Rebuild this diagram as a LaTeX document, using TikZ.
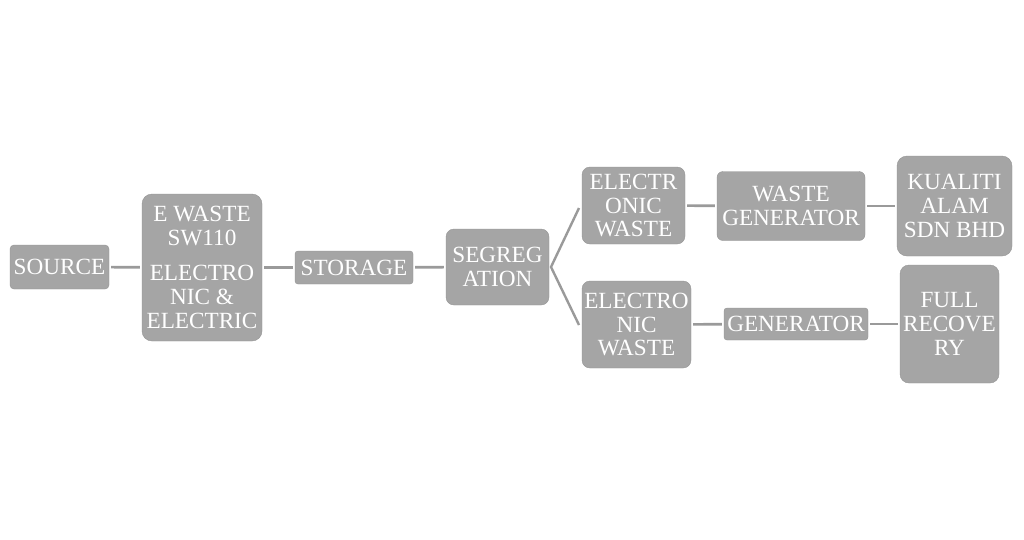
\documentclass[tikz,border=0pt]{standalone}
\usepackage{fontspec}
\setmainfont{Liberation Serif}
\definecolor{boxgray}{HTML}{A5A5A5}
\definecolor{linegray}{HTML}{9A9A9A}
\tikzset{
  box/.style={fill=boxgray, draw=boxgray!90!black, line width=0.4pt, text=white, align=center, inner sep=0pt,
    font=\fontsize{23.2}{23.8}\selectfont},
  conn/.style={draw=linegray, line width=2.6pt, shorten <=2pt, shorten >=2pt}
}
\begin{document}
\begin{tikzpicture}[x=1pt,y=-1pt]
\useasboundingbox (0,0) rectangle (1024,539);
\fill[white] (0,0) rectangle (1024,539);
\node[box, rounded corners=4pt, minimum width=99pt, minimum height=44pt] (src) at (59.5,267) {SOURCE};
\node[box, rounded corners=10pt, minimum width=120pt, minimum height=147pt] (ew) at (202,267.5) {E WASTE\\SW110\\[11pt]ELECTRO\\NIC \&\\ELECTRIC};
\node[box, rounded corners=3pt, minimum width=118pt, minimum height=33pt] (sto) at (354,267.5) {STORAGE};
\node[box, rounded corners=8pt, minimum width=103pt, minimum height=76pt] (seg) at (497.5,267) {SEGREG\\ATION};
\node[box, rounded corners=8pt, minimum width=103pt, minimum height=77pt] (e1) at (633.5,205.5) {ELECTR\\ONIC\\WASTE};
\node[box, rounded corners=8pt, minimum width=109pt, minimum height=87pt] (e2) at (636.5,324.5) {ELECTRO\\NIC\\WASTE};
\node[box, rounded corners=6pt, minimum width=148pt, minimum height=69pt] (wg) at (791,206) {WASTE\\GENERATOR};
\node[box, rounded corners=10pt, minimum width=115pt, minimum height=100pt] (ka) at (954.5,206) {KUALITI\\ALAM\\SDN BHD};
\node[box, rounded corners=3pt, minimum width=144pt, minimum height=32pt] (gen) at (796,324) {GENERATOR};
\node[box, rounded corners=9pt, minimum width=99pt, minimum height=118pt] (fr) at (949.5,324) {FULL\\RECOVE\\RY};
\coordinate (fork) at (551,267);
\coordinate (f1) at (579,208);
\coordinate (f2) at (579,325);
\draw[conn] (src) -- (ew);
\draw[conn] (ew) -- (sto);
\draw[conn] (sto) -- (seg);
\draw[draw=linegray, line width=2.4pt] (f1) -- (fork) -- (f2);
\draw[conn] (e1) -- (wg);
\draw[conn] (wg) -- (ka);
\draw[conn] (e2) -- (gen);
\draw[conn] (gen) -- (fr);
\end{tikzpicture}
\end{document}
